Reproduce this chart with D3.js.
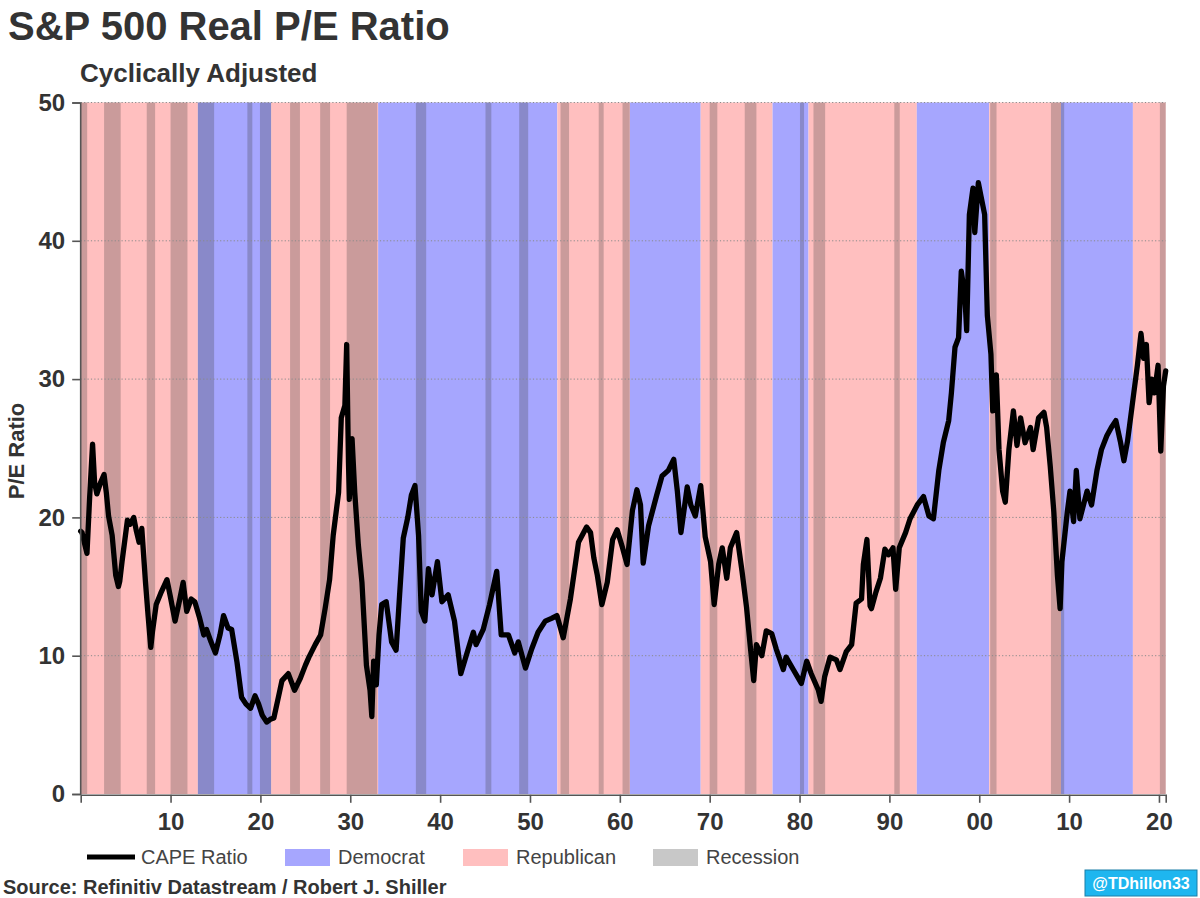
<!DOCTYPE html>
<html><head><meta charset="utf-8">
<script src="https://cdn.jsdelivr.net/npm/d3@7"></script>
<style>body{margin:0;background:#fff} svg{display:block}</style>
</head><body>
<svg id="chart" width="1200" height="898"></svg>
<script>
// ---- DATA ----
const capeYears = [1900.0,1900.15,1900.4,1900.7,1901.0,1901.32,1901.55,1901.8,1902.2,1902.6,1902.85,1903.1,1903.5,1903.9,1904.2,1904.35,1904.6,1905.2,1905.5,1905.9,1906.2,1906.5,1906.8,1907.2,1907.5,1907.8,1908.0,1908.4,1908.9,1909.6,1910.0,1910.5,1911.0,1911.4,1911.8,1912.3,1912.7,1913.2,1913.7,1914.0,1914.5,1915.0,1915.5,1915.9,1916.4,1916.8,1917.4,1917.9,1918.4,1918.9,1919.4,1919.8,1920.2,1920.7,1921.1,1921.5,1922.0,1922.4,1923.1,1923.8,1924.4,1925.0,1925.4,1926.1,1926.7,1927.2,1927.7,1928.1,1928.7,1929.0,1929.4,1929.6,1929.8,1929.9,1930.2,1930.5,1930.9,1931.3,1931.8,1932.2,1932.4,1932.6,1932.9,1933.2,1933.5,1934.0,1934.6,1935.1,1935.5,1935.9,1936.4,1936.8,1937.2,1937.6,1937.9,1938.3,1938.7,1939.1,1939.7,1940.2,1940.9,1941.6,1942.3,1942.9,1943.7,1944.0,1944.8,1945.5,1946.3,1946.8,1947.6,1948.3,1948.7,1949.5,1950.2,1950.9,1951.7,1952.4,1953.0,1953.7,1954.5,1955.4,1956.3,1956.74,1957.1,1957.5,1958.0,1958.6,1959.2,1959.7,1960.3,1960.8,1961.4,1961.9,1962.3,1962.6,1963.2,1964.1,1964.7,1965.4,1966.0,1966.4,1966.8,1967.5,1967.9,1968.4,1969.0,1969.5,1970.1,1970.5,1971.0,1971.4,1971.9,1972.3,1973.0,1973.6,1974.1,1974.5,1974.9,1975.2,1975.8,1976.3,1976.9,1977.4,1978.2,1978.5,1979.3,1980.2,1980.8,1981.3,1982.1,1982.4,1982.8,1983.4,1984.1,1984.5,1985.2,1985.8,1986.3,1986.9,1987.1,1987.5,1987.85,1988.0,1988.5,1989.0,1989.5,1989.9,1990.4,1990.7,1991.1,1991.8,1992.3,1993.1,1993.8,1994.4,1994.9,1995.5,1996.0,1996.6,1996.9,1997.3,1997.7,1998.0,1998.4,1998.6,1998.9,1999.3,1999.5,1999.9,2000.2,2000.6,2000.9,2001.3,2001.5,2001.9,2002.2,2002.6,2002.9,2003.3,2003.8,2004.2,2004.6,2005.1,2005.7,2006.0,2006.6,2007.2,2007.5,2007.9,2008.3,2008.7,2009.0,2009.2,2009.8,2010.1,2010.5,2010.8,2011.2,2012.0,2012.5,2013.1,2013.6,2014.2,2014.7,2015.2,2015.7,2016.1,2016.5,2017.0,2017.6,2018.0,2018.3,2018.6,2018.9,2019.2,2019.5,2019.9,2020.2,2020.5,2020.75];
const capeValues = [19.0,18.9,18.2,17.4,21.5,25.3,22.5,21.7,22.5,23.1,21.8,20.1,18.7,15.8,15.0,15.4,16.8,19.8,19.5,20.0,19.0,18.2,19.2,15.4,12.9,10.6,11.8,13.7,14.5,15.5,14.2,12.5,14.0,15.3,13.2,14.1,13.9,12.8,11.5,11.9,11.0,10.2,11.5,12.9,12.0,11.9,9.5,7.0,6.5,6.2,7.1,6.5,5.7,5.2,5.4,5.5,7.0,8.2,8.7,7.5,8.3,9.3,9.9,10.8,11.5,13.4,15.5,18.7,21.8,27.2,28.1,32.5,24.0,21.3,25.7,21.8,18.0,15.3,9.3,7.5,5.6,9.6,7.9,11.5,13.7,13.9,11.0,10.4,14.5,18.5,20.0,21.6,22.3,18.7,13.2,12.5,16.3,14.4,16.8,13.9,14.4,12.5,8.7,10.0,11.7,10.8,11.9,13.7,16.1,11.5,11.5,10.2,11.0,9.1,10.5,11.7,12.5,12.7,12.9,11.3,14.1,18.2,19.3,18.9,17.1,15.8,13.7,15.3,18.4,19.1,17.8,16.6,20.5,22.0,20.9,16.7,19.4,21.6,23.0,23.4,24.2,21.9,18.9,22.2,20.9,20.1,22.3,18.6,16.8,13.7,16.6,17.8,15.6,17.8,18.9,16.1,13.5,10.8,8.2,10.8,10.0,11.8,11.6,10.5,9.0,9.9,9.0,8.0,9.6,8.7,7.5,6.7,8.5,9.9,9.7,9.0,10.3,10.8,13.8,14.1,16.6,18.4,13.6,13.4,14.6,15.6,17.7,17.3,17.8,14.8,17.8,18.9,19.9,20.9,21.5,20.1,19.9,23.4,25.4,27.0,29.0,32.3,33.0,37.8,36.0,33.5,41.9,43.8,40.6,44.2,43.2,41.9,34.6,31.8,27.7,30.3,24.9,21.9,21.1,24.9,27.7,25.2,27.2,25.4,26.5,24.9,27.2,27.6,26.5,23.7,20.4,15.8,13.4,16.8,20.4,21.9,19.7,23.4,19.9,21.9,20.9,23.4,24.9,25.9,26.5,27.0,25.5,24.1,25.5,28.0,31.0,33.3,31.5,32.5,28.3,30.0,29.0,31.0,24.8,29.5,30.6];

const partyStart = [1900.0,1913.04,1921.2,1933.1,1953.04,1961.12,1969.0,1977.0,1981.0,1993.05,2001.1,2009.1,2017.1];
const partyEnd   = [1913.04,1921.2,1933.1,1953.04,1961.12,1969.0,1977.0,1981.0,1993.05,2001.1,2009.1,2017.1,2020.75];
const partyName  = ["Republican","Democrat","Republican","Democrat","Republican","Democrat","Republican","Democrat","Republican","Democrat","Republican","Democrat","Republican"];

const recessionStart = [1900.0,1902.6,1907.35,1910.0,1913.04,1918.55,1919.95,1923.3,1926.65,1929.6,1937.3,1945.05,1948.8,1953.4,1957.65,1960.3,1970.0,1973.9,1980.05,1981.55,1990.55,2001.22,2007.98,2020.1];
const recessionEnd   = [1900.72,1904.45,1908.28,1911.88,1914.85,1919.1,1921.2,1924.4,1927.75,1933.0,1938.45,1945.7,1949.8,1954.35,1958.2,1961.1,1970.85,1975.2,1980.5,1982.85,1991.15,2001.92,2009.45,2020.75];

const yTicks = [0,10,20,30,40,50];
const xTicks = [1910,1920,1930,1940,1950,1960,1970,1980,1990,2000,2010,2020];
const xTickLabels = ["10","20","30","40","50","60","70","80","90","00","10","20"];
const legendLabels = ["CAPE Ratio","Democrat","Republican","Recession"];

// ---- STYLE ----
const FONT = "'Liberation Sans', Arial, sans-serif";
const colParty = {Democrat:"#a6a6fe", Republican:"#ffbfbf"};
const txtCol = "#333333";

const svg = d3.select("#chart");
const L = 80.7, R = 1165.7, T = 102.5, B = 794;
const x = d3.scaleLinear().domain([1900, 2020.75]).range([L, R]);
const y = d3.scaleLinear().domain([0, 50]).range([B, T]);

// party bands
svg.append("g").selectAll("rect").data(partyStart).join("rect")
  .attr("x", (d,i)=>x(d)).attr("y", T)
  .attr("width", (d,i)=>x(partyEnd[i]) - x(d)).attr("height", B - T)
  .attr("fill", (d,i)=>colParty[partyName[i]]);

// recession overlays
svg.append("g").selectAll("rect").data(recessionStart).join("rect")
  .attr("x", d=>x(d)).attr("y", T)
  .attr("width", (d,i)=>x(recessionEnd[i]) - x(d)).attr("height", B - T)
  .attr("fill", "rgb(60,60,60)").attr("fill-opacity", 0.27);

// gridlines
svg.append("g").selectAll("line").data(yTicks.filter(v=>v>0)).join("line")
  .attr("x1", L).attr("x2", R).attr("y1", d=>y(d)).attr("y2", d=>y(d))
  .attr("stroke", "#8a8a8a").attr("stroke-width", 1).attr("stroke-dasharray", "1.2,2.2");

// line
const pts = capeYears.map((yr,i)=>[yr, capeValues[i]]);
svg.append("path").datum(pts)
  .attr("d", d3.line().x(d=>x(d[0])).y(d=>y(d[1])))
  .attr("fill","none").attr("stroke","#000").attr("stroke-width",5.3)
  .attr("stroke-linejoin","round").attr("stroke-linecap","round");

// y axis
const yAxis = svg.append("g").attr("transform", `translate(${L-0.5},0)`)
  .call(d3.axisLeft(y).tickValues(yTicks).tickSize(8).tickPadding(7).tickFormat(d3.format("d")));
yAxis.select(".domain").attr("stroke","#555").attr("stroke-width",1.6);
yAxis.selectAll(".tick line").attr("stroke","#555").attr("stroke-width",1.6);
yAxis.selectAll("text").attr("font-family",FONT).attr("font-size","24px").attr("font-weight","bold").attr("fill",txtCol);

// x axis
const xAxis = svg.append("g").attr("transform", `translate(0,${B+0.8})`)
  .call(d3.axisBottom(x).tickValues(xTicks).tickSize(8).tickPadding(10).tickFormat((d,i)=>xTickLabels[i]));
xAxis.select(".domain").attr("stroke","#555").attr("stroke-width",1.6);
xAxis.selectAll(".tick line").attr("stroke","#555").attr("stroke-width",1.6);
xAxis.selectAll("text").attr("font-family",FONT).attr("font-size","24px").attr("font-weight","bold").attr("fill",txtCol);

// titles
svg.append("text").attr("x",8).attr("y",40).text("S&P 500 Real P/E Ratio")
  .attr("font-family",FONT).attr("font-size","40px").attr("font-weight","bold").attr("fill",txtCol);
svg.append("text").attr("x",80).attr("y",82).text("Cyclically Adjusted")
  .attr("font-family",FONT).attr("font-size","26px").attr("font-weight","bold").attr("fill",txtCol);
svg.append("text").attr("transform","translate(24,451) rotate(-90)").attr("text-anchor","middle")
  .text("P/E Ratio").attr("font-family",FONT).attr("font-size","22px").attr("font-weight","bold").attr("fill",txtCol);

// legend
const lg = svg.append("g").attr("font-family",FONT).attr("font-size","20px").attr("fill","#444");
lg.append("line").attr("x1",87).attr("x2",135).attr("y1",857).attr("y2",857).attr("stroke","#000").attr("stroke-width",5);
lg.append("text").attr("x",141).attr("y",864).text(legendLabels[0]);
lg.append("rect").attr("x",285).attr("y",849).attr("width",45).attr("height",17).attr("fill",colParty.Democrat);
lg.append("text").attr("x",338).attr("y",864).text(legendLabels[1]);
lg.append("rect").attr("x",463).attr("y",849).attr("width",45).attr("height",17).attr("fill",colParty.Republican);
lg.append("text").attr("x",516).attr("y",864).text(legendLabels[2]);
lg.append("rect").attr("x",653).attr("y",849).attr("width",45).attr("height",17).attr("fill","#c8c8c8");
lg.append("text").attr("x",706).attr("y",864).text(legendLabels[3]);

// source
svg.append("text").attr("x",3).attr("y",894).text("Source: Refinitiv Datastream / Robert J. Shiller")
  .attr("font-family",FONT).attr("font-size","20px").attr("font-weight","bold").attr("fill",txtCol);

// badge
svg.append("rect").attr("x",1085).attr("y",870).attr("width",112).attr("height",26)
  .attr("fill","#1eb6ef").attr("stroke","#1b7fa8").attr("stroke-width",1);
svg.append("text").attr("x",1141).attr("y",889).attr("text-anchor","middle").text("@TDhillon33")
  .attr("font-family",FONT).attr("font-size","16px").attr("font-weight","bold").attr("fill","#fff");
</script>
</body></html>
